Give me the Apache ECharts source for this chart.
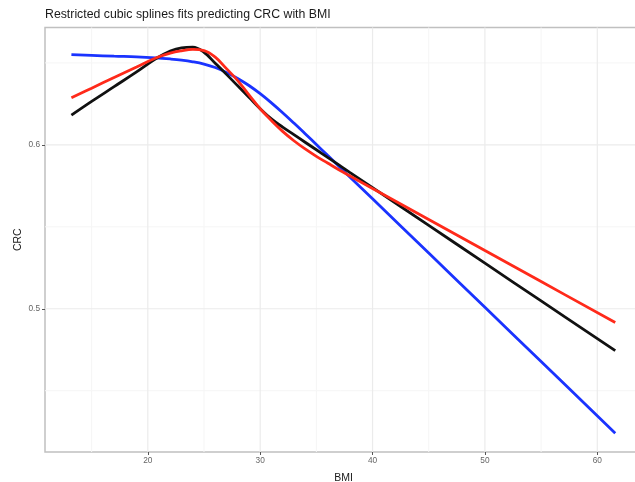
<!DOCTYPE html>
<html>
<head>
<meta charset="utf-8">
<script src="https://cdn.jsdelivr.net/npm/echarts@6/dist/echarts.min.js"></script>
<style>
  html, body { margin: 0; padding: 0; background: #ffffff; }
  #chart { width: 635px; height: 482px; }
</style>
</head>
<body>
<div id="chart"></div>
<script>
// BMI grid on which the three fitted spline curves are evaluated
const bmi = [13.2, 15, 17, 19, 20.7, 22, 23, 24, 25, 26, 27, 28, 29, 30, 31, 32, 33, 34, 35, 36, 37, 38, 40, 45, 50, 55, 61.6];

// Predicted CRC for each model
const crcBlue = [0.6551, 0.6546, 0.6541, 0.6537, 0.6531, 0.6524, 0.6517, 0.6507, 0.6493, 0.6472, 0.6442, 0.6405, 0.6362, 0.6312, 0.6256, 0.6196, 0.6133, 0.6068, 0.6002, 0.5936, 0.5870, 0.5803, 0.5671, 0.5340, 0.5009, 0.4678, 0.4241];
const crcBlack = [0.6181, 0.6265, 0.6355, 0.6445, 0.6525, 0.6572, 0.6592, 0.6596, 0.6565, 0.6498, 0.6430, 0.6360, 0.6290, 0.6220, 0.6158, 0.6108, 0.6062, 0.6016, 0.5970, 0.5924, 0.5878, 0.5831, 0.5739, 0.5509, 0.5278, 0.5048, 0.4744];
const crcRed = [0.6288, 0.6346, 0.6411, 0.6475, 0.6530, 0.6560, 0.6574, 0.6582, 0.6575, 0.6535, 0.6465, 0.6392, 0.6305, 0.6220, 0.6148, 0.6082, 0.6025, 0.5975, 0.5930, 0.5889, 0.5848, 0.5810, 0.5734, 0.5545, 0.5355, 0.5166, 0.4916];

// Axis ticks and grid lines
const xTicks = [20, 30, 40, 50, 60];
const xMinor = [15, 25, 35, 45, 55];
const yTicks = [0.5, 0.6];
const yMinor = [0.45, 0.55, 0.65];

const xRange = [10.85, 63.98];
const yRange = [0.4126, 0.6716];

const FONT = 'Liberation Sans, Arial, sans-serif';
const pairs = ys => bmi.map((b, i) => [b, ys[i]]);

// Panel grid lines, drawn as plain line series underneath the curves
const vLine = (v, color, w) => ({
  type: 'line', data: [[v, yRange[0]], [v, yRange[1]]],
  symbol: 'none', silent: true, z: 1,
  lineStyle: { color: color, width: w }
});
const hLine = (v, color, w) => ({
  type: 'line', data: [[xRange[0], v], [xRange[1], v]],
  symbol: 'none', silent: true, z: 1,
  lineStyle: { color: color, width: w }
});
const gridSeries = [
  ...xMinor.map(v => vLine(v, '#f5f5f5', 1)),
  ...yMinor.map(v => hLine(v, '#f5f5f5', 1)),
  ...xTicks.map(v => vLine(v, '#ebebeb', 1.2)),
  ...yTicks.map(v => hLine(v, '#ebebeb', 1.2))
];

const curve = (ys, color) => ({
  type: 'line',
  data: pairs(ys),
  smooth: 0.4,
  showSymbol: false,
  symbol: 'none',
  silent: true,
  z: 3,
  lineStyle: { color: color, width: 2.8 }
});

const chart = echarts.init(document.getElementById('chart'), null, { renderer: 'canvas' });
chart.setOption({
  animation: false,
  backgroundColor: '#ffffff',
  title: {
    text: 'Restricted cubic splines fits predicting CRC with BMI',
    left: 45,
    top: 9,
    padding: 0,
    textStyle: { fontFamily: FONT, fontSize: 12.3, fontWeight: 'normal', color: '#1a1a1a' }
  },
  grid: {
    left: 45,
    top: 27.5,
    right: -7,
    bottom: 30,
    outerBoundsMode: 'none',
    containLabel: false,
    show: true,
    borderColor: '#c0c0c0',
    borderWidth: 1.5,
    backgroundColor: '#ffffff'
  },
  xAxis: {
    type: 'value',
    min: xRange[0],
    max: xRange[1],
    name: 'BMI',
    nameLocation: 'middle',
    nameGap: 21,
    nameTextStyle: { fontFamily: FONT, fontSize: 10.5, color: '#1a1a1a' },
    axisLine: { show: false },
    splitLine: { show: false },
    axisTick: { show: true, customValues: xTicks, length: 3, lineStyle: { color: '#555555', width: 1 } },
    axisLabel: {
      customValues: xTicks,
      formatter: v => String(v),
      margin: 5,
      fontFamily: FONT, fontSize: 8.3, color: '#666666'
    }
  },
  yAxis: {
    type: 'value',
    min: yRange[0],
    max: yRange[1],
    name: 'CRC',
    nameLocation: 'middle',
    nameGap: 21,
    nameMoveOverlap: false,
    nameRotate: 90,
    nameTextStyle: { fontFamily: FONT, fontSize: 10.5, color: '#1a1a1a' },
    axisLine: { show: false },
    splitLine: { show: false },
    axisTick: { show: true, customValues: yTicks, length: 3, lineStyle: { color: '#555555', width: 1 } },
    axisLabel: {
      customValues: yTicks,
      formatter: v => v.toFixed(1),
      margin: 5,
      fontFamily: FONT, fontSize: 8.3, color: '#666666'
    }
  },
  series: [
    ...gridSeries,
    curve(crcBlue, '#1a33ff'),
    curve(crcBlack, '#111111'),
    curve(crcRed, '#ff2a1a')
  ]
});
</script>
</body>
</html>
